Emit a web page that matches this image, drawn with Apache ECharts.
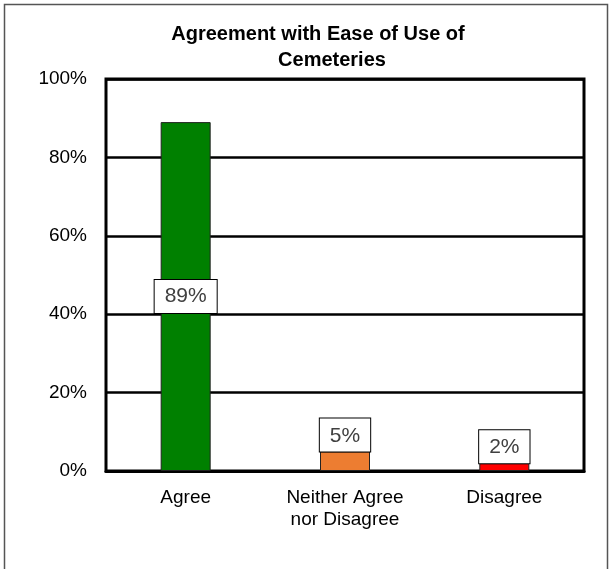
<!DOCTYPE html>
<html>
<head>
<meta charset="utf-8">
<script src="https://cdn.jsdelivr.net/npm/echarts@6/dist/echarts.min.js"></script>
<style>
  html, body { margin: 0; padding: 0; background: #fff; }
  #chart { width: 610px; height: 569px; }
</style>
</head>
<body>
<div id="chart"></div>
<script>
// Survey responses: share agreeing that cemeteries are easy to use
const categories = ['Agree', 'Neither Agree\nnor Disagree', 'Disagree'];
const shares = [0.89, 0.05, 0.02];
const barColors = ['#008000', '#ED7D31', '#FF0000'];
const yTicks = [0, 0.2, 0.4, 0.6, 0.8, 1.0];

const FONT = '"Liberation Sans", Arial, sans-serif';

const chart = echarts.init(document.getElementById('chart'), null, { renderer: 'canvas' });

const labelBox = {
  show: true,
  formatter: p => Math.round(p.value * 100) + '%',
  fontFamily: FONT,
  fontSize: 21,
  color: '#404040',
  backgroundColor: '#fff',
  borderColor: '#000',
  borderWidth: 1,
  padding: [7, 10, 5, 10]
};

chart.setOption({
  animation: false,
  backgroundColor: '#fff',
  title: [
    {
      text: 'Agreement with Ease of Use of',
      left: 313, top: 19, textAlign: 'center',
      textStyle: { fontFamily: FONT, fontSize: 20, fontWeight: 'bold', color: '#000' }
    },
    {
      text: 'Cemeteries',
      left: 327, top: 45, textAlign: 'center',
      textStyle: { fontFamily: FONT, fontSize: 20, fontWeight: 'bold', color: '#000' }
    }
  ],
  graphic: [{
    type: 'rect',
    shape: { x: 4.5, y: 4.5, width: 603, height: 600 },
    style: { fill: 'none', stroke: '#555', lineWidth: 1.5 },
    silent: true, z: -1
  }],
  grid: {
    left: 106, right: 26, top: 79, bottom: 98,
    show: true, borderColor: '#000', borderWidth: 3, backgroundColor: 'transparent'
  },
  xAxis: {
    type: 'category',
    data: categories,
    axisLine: { show: true, lineStyle: { color: '#000', width: 3 } },
    axisTick: { show: false },
    axisLabel: { fontFamily: FONT, fontSize: 19, color: '#000', margin: 16, lineHeight: 22 }
  },
  yAxis: {
    type: 'value',
    min: yTicks[0], max: yTicks[yTicks.length - 1], interval: 0.2,
    axisLine: { show: false },
    axisTick: { show: false },
    splitLine: { lineStyle: { color: '#000', width: 2.5 } },
    axisLabel: {
      fontFamily: FONT, fontSize: 19, color: '#000', margin: 19,
      formatter: v => Math.round(v * 100) + '%'
    }
  },
  series: [{
    type: 'bar',
    barWidth: 50,
    data: shares.map((v, i) => ({
      value: v,
      itemStyle: { color: barColors[i], borderColor: '#222', borderWidth: 1 },
      label: Object.assign({}, labelBox, i === 0 ? { position: 'inside' } : { position: 'top', distance: 0 })
    }))
  }]
});
</script>
</body>
</html>
